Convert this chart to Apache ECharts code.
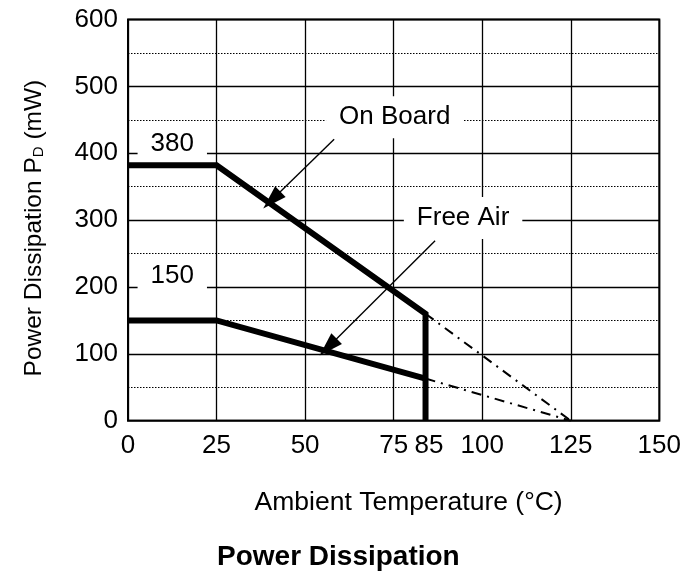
<!DOCTYPE html>
<html>
<head>
<meta charset="utf-8">
<script src="https://cdn.jsdelivr.net/npm/echarts@6/dist/echarts.min.js"></script>
<style>html,body{margin:0;padding:0;background:#fff}#c{width:684px;height:578px}</style>
</head>
<body>
<div id="c"></div>
<script>
// ---- data ----
const xTicks = [0, 25, 50, 75, 100, 125, 150];
const extraTick = 85;
const yTicks = [0, 100, 200, 300, 400, 500, 600];
const onBoardX = [0, 25, 84, 84];
const onBoardY = [382, 382, 160, 0];
const freeAirX = [0, 25, 84];
const freeAirY = [150, 150, 63];
const onBoardExtX = [84, 125];
const onBoardExtY = [160, 0];
const freeAirExtX = [84, 125];
const freeAirExtY = [63, 0];
const annoText = ['On Board', 'Free Air', '380', '150'];
const annoX = [75.3, 94.6, 12.5, 12.5];
const annoY = [454, 303, 414, 216];
const arrowFromX = [58.2, 86.7];
const arrowFromY = [421, 269];
const arrowToX = [40.6, 56.5];
const arrowToY = [330, 110];

const FONT = 'Liberation Sans, Arial, sans-serif';
const zip = (xs, ys) => xs.map((x, i) => [x, ys[i]]);

const chart = echarts.init(document.getElementById('c'));
chart.setOption({
  animation: false,
  backgroundColor: '#fff',
  textStyle: { fontFamily: FONT, color: '#000' },
  title: {
    text: 'Power Dissipation', left: 212, top: 538,
    textStyle: { fontFamily: FONT, fontSize: 28, fontWeight: 'bold', color: '#000' }
  },
  grid: { left: 128, right: 20, top: 19.5, bottom: 157.3, show: true, borderColor: '#000', borderWidth: 2, backgroundColor: 'transparent' },
  xAxis: [{
    type: 'value', min: xTicks[0], max: xTicks[xTicks.length - 1], interval: 25,
    axisLine: { show: false }, axisTick: { show: false },
    axisLabel: { fontSize: 26, color: '#000', fontFamily: FONT, margin: 12,
      formatter: v => xTicks.includes(v) ? String(v) : '' },
    splitLine: { show: true, lineStyle: { color: '#000', width: 1.3 } },
    name: 'Ambient Temperature (°C)', nameLocation: 'middle', nameGap: 68,
    nameTextStyle: { fontSize: 26.5, color: '#000', fontFamily: FONT, padding: [0, 0, 0, 30] }
  }, {
    type: 'value', min: 0, max: 150, interval: extraTick, position: 'bottom',
    axisLine: { show: false }, axisTick: { show: false }, splitLine: { show: false },
    axisLabel: { fontSize: 26, color: '#000', fontFamily: FONT, margin: 12, showMaxLabel: false, showMinLabel: false,
      formatter: v => v === extraTick ? String(v) : '' }
  }],
  yAxis: {
    type: 'value', min: yTicks[0], max: yTicks[yTicks.length - 1], interval: 100,
    axisLine: { show: false }, axisTick: { show: false },
    axisLabel: { fontSize: 26, color: '#000', fontFamily: FONT, margin: 10 },
    splitLine: { show: true, lineStyle: { color: '#000', width: 1.3 } },
    minorTick: { show: false, splitNumber: 2 },
    minorSplitLine: { show: true, lineStyle: { color: '#000', width: 1, type: [1.5, 1.5] } },
    name: '{a|Power Dissipation P}{s|D}{a| (mW)}', nameLocation: 'middle', nameGap: 78, nameRotate: 90,
    nameTextStyle: {
      padding: [0, 16, 0, 0],
      rich: {
        a: { fontSize: 24.5, fontFamily: FONT, color: '#000', lineHeight: 32 },
        s: { fontSize: 15, fontFamily: FONT, color: '#000', lineHeight: 32, padding: [10, 0, 0, 0] }
      }
    }
  },
  series: [
    { type: 'line', data: zip(onBoardX, onBoardY), symbol: 'none', z: 5,
      lineStyle: { color: '#000', width: 6, join: 'miter', cap: 'butt' } },
    { type: 'line', data: zip(freeAirX, freeAirY), symbol: 'none', z: 5,
      lineStyle: { color: '#000', width: 6, join: 'miter', cap: 'butt' } },
    { type: 'line', data: zip(onBoardExtX, onBoardExtY), symbol: 'none', z: 4,
      lineStyle: { color: '#000', width: 2, type: [10, 6, 2, 6] } },
    { type: 'line', data: zip(freeAirExtX, freeAirExtY), symbol: 'none', z: 4,
      lineStyle: { color: '#000', width: 2, type: [10, 6, 2, 6] } },
    { type: 'scatter', symbolSize: 0, z: 3, silent: true,
      itemStyle: { opacity: 1, color: '#000' },
      data: annoText.map((t, i) => ({ value: [annoX[i], annoY[i]], name: t })),
      label: { show: true, position: 'inside', formatter: p => p.name, fontSize: 26, fontFamily: FONT, color: '#000',
        opacity: 1, textBorderWidth: 0, textBorderColor: 'transparent',
        backgroundColor: '#fff', padding: [8, 13, 8, 13] } },
    { type: 'line', data: [], z: 6, silent: true,
      markLine: { silent: true, symbol: ['none', 'triangle'], symbolSize: [15, 24], precision: 2,
        label: { show: false },
        lineStyle: { color: '#000', width: 1.4, type: 'solid' },
        emphasis: { disabled: true },
        data: arrowFromX.map((x, i) => [{ coord: [x, arrowFromY[i]] }, { coord: [arrowToX[i], arrowToY[i]] }]) } }
  ]
});
</script>
</body>
</html>
